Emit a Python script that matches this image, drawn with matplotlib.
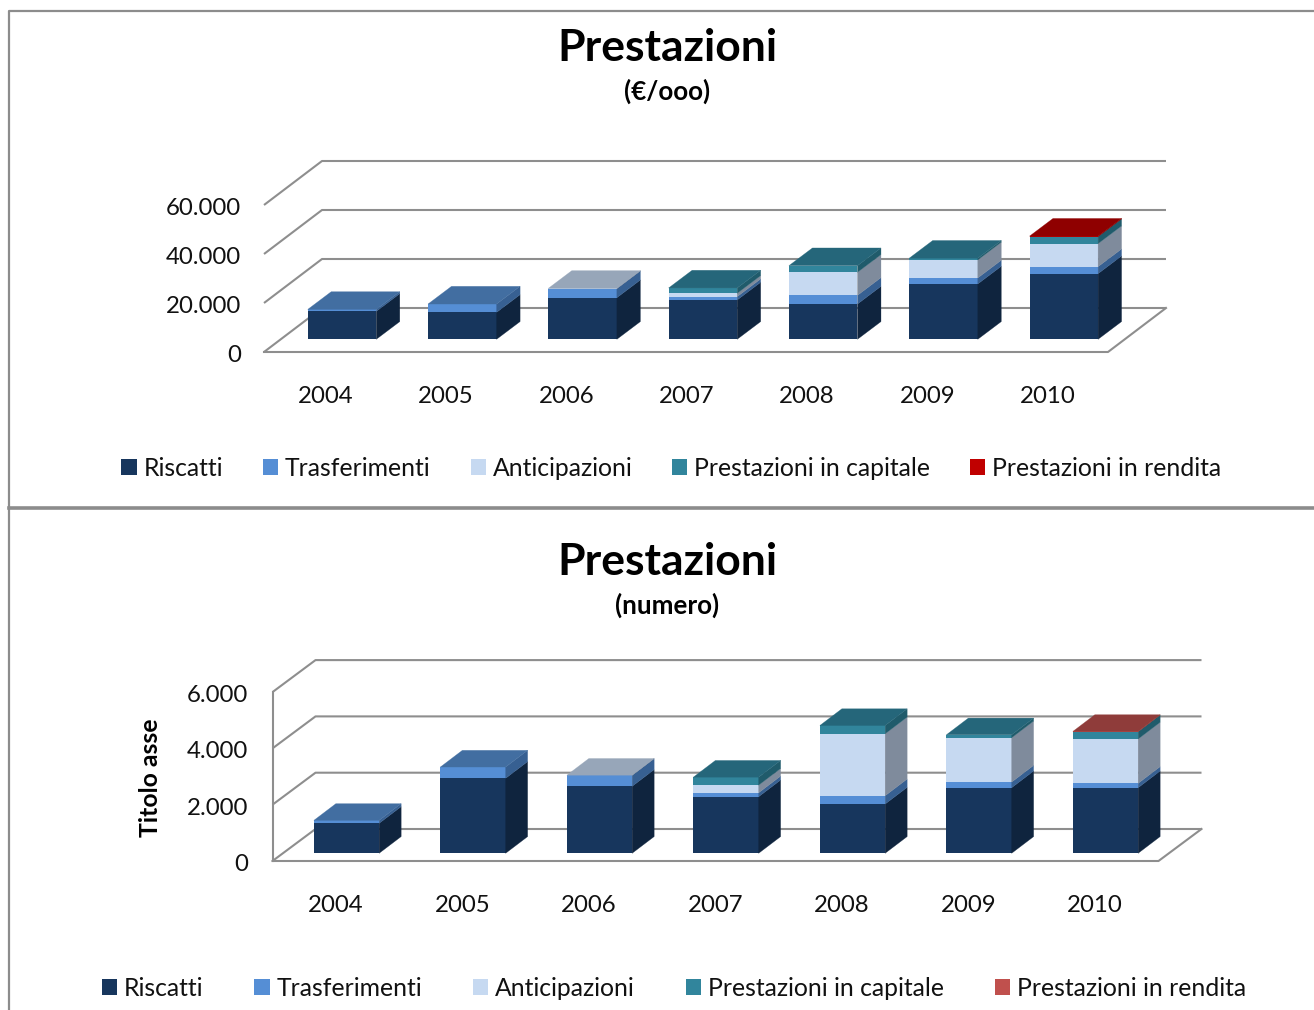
import numpy as np
import matplotlib
matplotlib.use("Agg")
import matplotlib.pyplot as plt
from matplotlib.patches import Polygon, Patch

plt.rcParams['font.family'] = ['Lato', 'DejaVu Sans']

W, H = 1314, 1010
FS = 17.3
FS_LEG = 17.8

anni = ['2004', '2005', '2006', '2007', '2008', '2009', '2010']
serie = ['Riscatti', 'Trasferimenti', 'Anticipazioni', 'Prestazioni in capitale', 'Prestazioni in rendita']

# euro / 1000
euro_riscatti = [11400, 11000, 17000, 16050, 14400, 22600, 26800]
euro_trasf = [800, 3400, 3700, 1360, 3550, 2450, 2850]
euro_antic = [0, 0, 100, 1360, 9400, 7350, 9400]
euro_capit = [0, 0, 0, 2180, 2700, 700, 2850]
euro_rend = [0, 0, 0, 0, 0, 0, 200]

# numero
num_riscatti = [1065, 2665, 2380, 2010, 1750, 2330, 2330]
num_trasf = [105, 400, 390, 140, 295, 200, 155]
num_antic = [0, 0, 5, 270, 2200, 1575, 1575]
num_capit = [0, 0, 0, 285, 295, 105, 260]
num_rend = [0, 0, 0, 0, 0, 0, 10]

col_front = ['#17365D', '#558ED5', '#C6D9F1', '#31859C', '#C00000']
col_side = ['#0F243E', '#376092', '#7F8B9C', '#205B6B', '#7F0000']
col_top = ['#123050', '#426EA1', '#97A6B9', '#25667A', '#8F0000']
GRID = '#8E8E8E'


def px_axes(fig, x0, x1, y0, y1):
    return fig.add_axes([x0 / W, 1 - y1 / H, (x1 - x0) / W, (y1 - y0) / H])


def chart(fig, box, stacks, front, side, top, cx0, step, bw, base, ppu, depth,
          back, floor_h, ticks_max, tick_step, left, right, lab_off, vertical):
    ax = px_axes(fig, *box)
    x0, x1, y0, y1 = box
    ax.set_xlim((x0 - cx0) / step, (x1 - cx0) / step)
    ax.set_ylim((base - y1) * ppu, (base - y0) * ppu)
    for s in ax.spines.values():
        s.set_visible(False)
    ax.patch.set_alpha(0)

    X = lambda p: (p - cx0) / step
    Y = lambda p: (base - p) * ppu

    # griglia: pareti e pavimento
    n = int(ticks_max / tick_step)
    gap_x, gap_y = floor_h
    for k in range(n + 1):
        yb = back - k * tick_step / ppu
        ax.plot([X(left), X(left + gap_x), X(right)], [Y(yb + gap_y), Y(yb), Y(yb)],
                color=GRID, lw=1.5, zorder=1, solid_capstyle='butt')
    yb = back
    ax.plot([X(left), X(right - gap_x), X(right)], [Y(yb + gap_y), Y(yb + gap_y), Y(yb)],
            color=GRID, lw=1.5, zorder=1)
    if vertical:
        ax.plot([X(left), X(left)], [Y(back + gap_y), Y(back + gap_y - n * tick_step / ppu)],
                color=GRID, lw=1.5, zorder=1)

    # barre impilate
    pos = np.arange(len(anni))
    ddx, ddy = depth[0] / step, depth[1] * ppu
    bottom = np.zeros(len(anni))
    stacks = [np.array(v, dtype=float) for v in stacks]
    totals = np.sum(stacks, axis=0)
    for s, vals in enumerate(stacks):
        ax.bar(pos, vals, bw, bottom=bottom, color=front[s], zorder=3, lw=0)
        for i in pos:
            if vals[i] <= 0:
                continue
            xr = i + bw / 2
            xl = i - bw / 2
            b = bottom[i]
            t = b + vals[i]
            ax.add_patch(Polygon([(xr, b), (xr + ddx, b + ddy), (xr + ddx, t + ddy), (xr, t)],
                                 fc=side[s], ec=side[s], lw=0.2, zorder=3))
            if t >= totals[i]:
                ax.add_patch(Polygon([(xl, t), (xl + ddx, t + ddy), (xr + ddx, t + ddy), (xr, t)],
                                     fc=top[s], ec=top[s], lw=0.2, zorder=3))
        bottom = bottom + vals

    # etichette
    ticks = np.arange(0, ticks_max + 1, tick_step)
    ax.set_yticks(ticks + Y(back + gap_y + 1.5))
    ax.set_yticklabels([f'{int(t):,}'.replace(',', '.') for t in ticks], fontsize=FS, color='#111111')
    ax.set_xticks(pos + lab_off / step)
    ax.set_xticklabels(anni, fontsize=FS, color='#111111')
    ax.tick_params(length=0)
    return ax


fig = plt.figure(figsize=(W / 100, H / 100), dpi=100)

ax1 = chart(fig, (250, 1180, 150, 366),
            [euro_riscatti, euro_trasf, euro_antic, euro_capit, euro_rend],
            col_front, col_side, col_top,
            cx0=342, step=120.3, bw=0.57, base=339.3, ppu=20000 / 49, depth=(23.5, 17.7),
            back=308, floor_h=(58, 44), ticks_max=60000, tick_step=20000,
            left=264, right=1166, lab_off=-16.3, vertical=False)
ax1.tick_params(axis='y', pad=6.4)
ax1.tick_params(axis='x', pad=14.2)

front2 = col_front[:4] + ['#C0504D']
top2 = col_top[:4] + ['#8F3C3A']
side2 = col_side[:4] + ['#8F3C3A']
ax2 = chart(fig, (258, 1215, 650, 875),
            [num_riscatti, num_trasf, num_antic, num_capit, num_rend],
            front2, side2, top2,
            cx0=346.5, step=126.5, bw=0.516, base=853.3, ppu=2000 / 56.3, depth=(22, 16.7),
            back=829, floor_h=(43, 32), ticks_max=6000, tick_step=2000,
            left=272.5, right=1201.5, lab_off=-10.5, vertical=True)
ax2.tick_params(axis='y', pad=7)
ax2.tick_params(axis='x', pad=14.2)

# titoli
for y, s, fs in [(48, 'Prestazioni', 32), (91, '(€/ooo)', 18.7), (562, 'Prestazioni', 32), (605, '(numero)', 18.7)]:
    fig.text(667 / W, 1 - y / H, s, ha='center', va='center', fontsize=fs, fontweight='bold', color='black')
fig.text(150 / W, 1 - 778 / H, 'Titolo asse', rotation=90, ha='center', va='center',
         fontsize=17.8, fontweight='bold', color='black')

# legende
for cols, cx, cy, gap in [(col_front, 671.5, 468, 40), (front2, 674, 988, 51)]:
    hs = [Patch(fc=c, ec='none', label=l) for c, l in zip(cols, serie)]
    fig.legend(handles=hs, ncols=5, loc='center', bbox_to_anchor=(cx / W, 1 - cy / H), frameon=False,
               fontsize=FS_LEG, handlelength=0.61, handleheight=0.61, handletextpad=0.28,
               columnspacing=gap / (FS_LEG * 100 / 72), borderpad=0, borderaxespad=0, labelcolor='#111111')

# cornici
frame = fig.add_axes([0, 0, 1, 1], zorder=-1)
frame.set_xlim(0, W)
frame.set_ylim(H, 0)
frame.axis('off')
frame.plot([W, 9.2, 9.2], [10.8, 10.8, H], color='#8C8C8C', lw=1.6)
frame.plot([9, W], [507.5, 507.5], color='#8C8C8C', lw=2.6)

plt.savefig('out.png', dpi=100)
